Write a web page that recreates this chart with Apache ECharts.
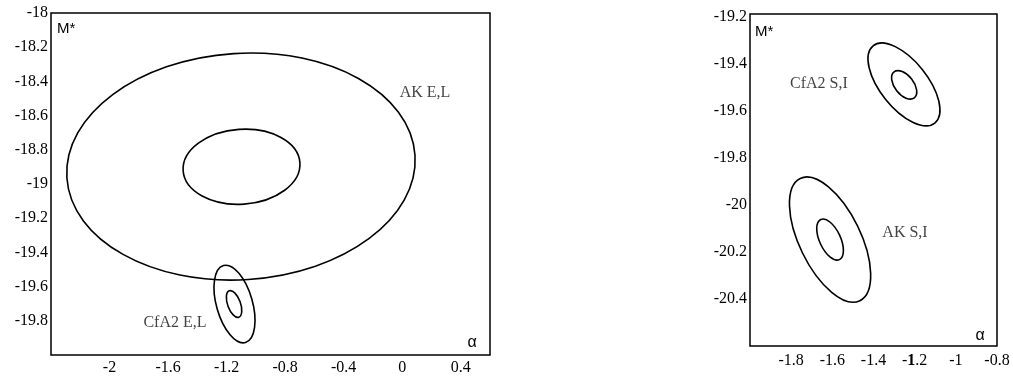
<!DOCTYPE html>
<html>
<head>
<meta charset="utf-8">
<script src="https://cdn.jsdelivr.net/npm/echarts@6/dist/echarts.min.js"></script>
<style>
  html, body { margin: 0; padding: 0; background: #fff; }
  #chart { width: 1013px; height: 381px; }
</style>
</head>
<body>
<div id="chart"></div>
<script>
// Axis ranges: [min, max, interval]
const leftX = [-2.4, 0.6, 0.4];
const leftY = [-20, -18, 0.2];
const rightX = [-2.0, -0.8, 0.2];
const rightY = [-20.6, -19.19, 0.2];

// Confidence ellipses in the (alpha, M*) plane.
// centre [alpha, M*], half-sizes [alpha units, M* units] before tilt, tilt in degrees (anticlockwise)
// Left panel: AK E,L (outer, inner), CfA2 E,L (outer, inner)
const leftCenters = [[-1.102, -18.898], [-1.098, -18.899], [-1.146, -19.702], [-1.149, -19.702]];
const leftRadii   = [[1.192, 0.662], [0.400, 0.219], [0.123, 0.234], [0.044, 0.082]];
const leftTilt    = [3.7, 4, 16, 20];

// Right panel: CfA2 S,I (outer, inner), AK S,I (outer, inner)
const rightCenters = [[-1.252, -19.489], [-1.251, -19.491], [-1.611, -20.148], [-1.611, -20.148]];
const rightRadii   = [[0.115, 0.210], [0.046, 0.070], [0.149, 0.289], [0.051, 0.094]];
const rightTilt    = [38.6, 38, 26, 25];

// Sample labels: [text, alpha, M*]
const leftLabels = [['AK E,L', 0.156, -18.465], ['CfA2 E,L', -1.553, -19.810]];
const rightLabels = [['CfA2 S,I', -1.665, -19.485], ['AK S,I', -1.247, -20.118]];

const SERIF = '"Liberation Serif", "Times New Roman", serif';
const SANS = '"Liberation Sans", Arial, sans-serif';

function ellipses(axis, centers, radii, tilt) {
  return {
    type: 'custom',
    coordinateSystem: 'cartesian2d',
    xAxisIndex: axis, yAxisIndex: axis,
    silent: true,
    encode: { x: 0, y: 1 },
    data: centers.map((c, i) => [c[0], c[1], radii[i][0], radii[i][1], tilt[i]]),
    renderItem(params, api) {
      const c = api.coord([api.value(0), api.value(1)]);
      const rx = api.size([api.value(2), 0])[0];
      const ry = api.size([0, api.value(3)])[1];
      return {
        type: 'ellipse',
        x: c[0], y: c[1],
        rotation: api.value(4) * Math.PI / 180,
        shape: { cx: 0, cy: 0, rx: rx, ry: ry },
        style: { fill: 'none', stroke: '#000', lineWidth: 1.6 }
      };
    }
  };
}

function labels(axis, list) {
  return {
    type: 'scatter',
    xAxisIndex: axis, yAxisIndex: axis,
    symbolSize: 0,
    silent: true,
    data: list.map(l => ({ name: l[0], value: [l[1], l[2]] })),
    label: {
      show: true, position: 'inside', formatter: '{b}',
      color: '#111', fontFamily: SERIF, fontSize: 16
    }
  };
}

const noLines = {
  axisLine: { show: false }, axisTick: { show: false }, splitLine: { show: false }
};
function axis(grid, r, label) {
  return Object.assign({
    type: 'value', gridIndex: grid, min: r[0], max: r[1], interval: r[2],
    axisLabel: Object.assign({ color: '#000', fontFamily: SERIF, fontSize: 16 }, label)
  }, noLines);
}

const chart = echarts.init(document.getElementById('chart'), null, { renderer: 'canvas' });
const frame = { show: true, borderColor: '#000', borderWidth: 1.5, backgroundColor: 'transparent' };

chart.setOption({
  animation: false,
  backgroundColor: '#fff',
  grid: [
    Object.assign({ left: 51, top: 13, width: 439, height: 342 }, frame),
    Object.assign({ left: 750, top: 14, width: 247, height: 332 }, frame)
  ],
  xAxis: [
    axis(0, leftX, { margin: 5, showMinLabel: false, showMaxLabel: false }),
    axis(1, rightX, {
      margin: 7, showMinLabel: false,
      formatter: v => Math.abs(v + 1.2) < 1e-6 ? '-{b|1}.2' : String(v),
      rich: { b: { fontFamily: SERIF, fontSize: 16, fontWeight: 'bold', color: '#000' } }
    })
  ],
  yAxis: [
    axis(0, leftY, { margin: 3, showMinLabel: false }),
    axis(1, rightY, { margin: 3, showMinLabel: false, showMaxLabel: false })
  ],
  graphic: [
    { type: 'text', left: 57, top: 21, style: { text: 'M*', font: '15px ' + SANS, fill: '#000' } },
    { type: 'text', left: 755, top: 24, style: { text: 'M*', font: '15px ' + SANS, fill: '#000' } },
    { type: 'text', style: { x: 472, y: 343, text: 'α', font: '16px ' + SANS, fill: '#000',
                             textAlign: 'center', textVerticalAlign: 'middle' } },
    { type: 'text', style: { x: 980, y: 336, text: 'α', font: '16px ' + SANS, fill: '#000',
                             textAlign: 'center', textVerticalAlign: 'middle' } }
  ],
  series: [
    ellipses(0, leftCenters, leftRadii, leftTilt),
    ellipses(1, rightCenters, rightRadii, rightTilt),
    labels(0, leftLabels),
    labels(1, rightLabels)
  ]
});
</script>
</body>
</html>
